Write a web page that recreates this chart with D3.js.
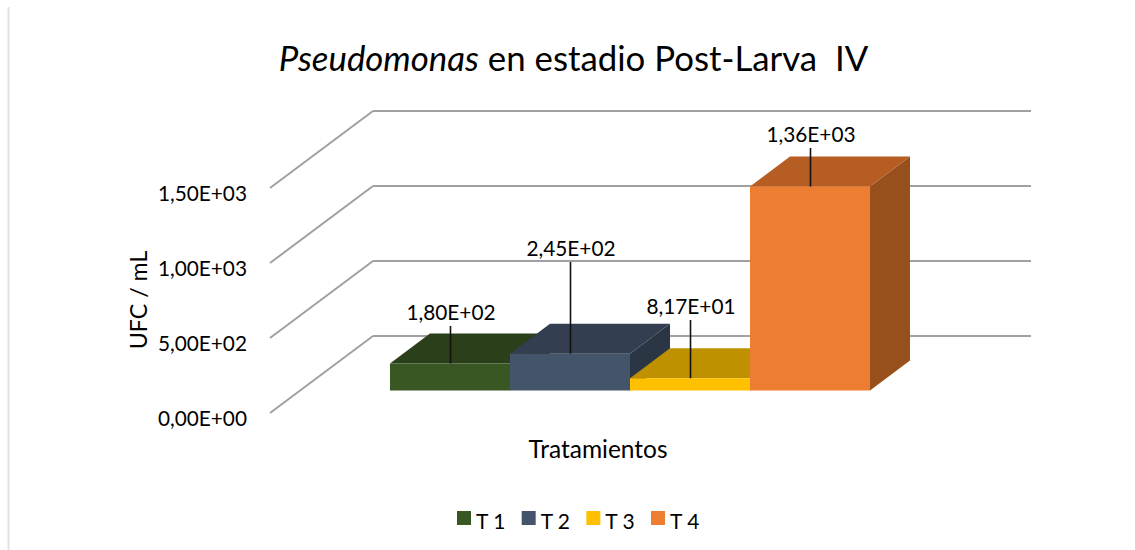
<!DOCTYPE html>
<meta charset="utf-8">
<style>
  html, body { margin: 0; background: #fff; }
  text { font-family: Lato, "Open Sans", sans-serif; fill: #000; }
</style>
<svg width="1135" height="550"></svg>
<script src="https://d3js.org/d3.v7.min.js"></script>
<script>

var categories = ["T 1", "T 2", "T 3", "T 4"];
var values = [180, 245, 81.7, 1360];
var valueLabels = ["1,80E+02", "2,45E+02", "8,17E+01", "1,36E+03"];
var tickValues = [0, 500, 1000, 1500];
var tickLabels = ["0,00E+00", "5,00E+02", "1,00E+03", "1,50E+03"];
var frontColors = ["#385723", "#44546a", "#ffc000", "#ed7d31"];
var topColors = ["#2b3f1b", "#333f50", "#bf9000", "#b55d23"];
var sideColors = ["#233316", "#2b3645", "#a07800", "#97501c"];
var labelTops = [326, 262, 320, 148];

var svg = d3.select("svg");

var depthX = 40, depthY = -30;
var gridColor = "#a0a0a0";

// three y scales, same value range, one for each plane of the fake 3d box
var yFront = d3.scaleLinear().domain([0, 1500]).range([413, 188]);
var yBack = d3.scaleLinear().domain([0, 1500]).range([336, 111]);
var yBar = d3.scaleLinear().domain([0, 1500]).range([390.5, 165.5]);
var x = d3.scaleBand().domain(categories).range([390, 870]);

// left border of the picture
svg.append("line")
    .attr("x1", 8.5).attr("x2", 8.5)
    .attr("y1", 7).attr("y2", 550)
    .attr("stroke", "#e2e2e2")
    .attr("stroke-width", 2);

// title
var title = svg.append("text")
    .attr("x", 573.5)
    .attr("y", 71)
    .attr("text-anchor", "middle")
    .style("font-size", "34.8px");
title.append("tspan").style("font-style", "italic").text("Pseudomonas");
title.append("tspan").text(" en estadio Post-Larva\u00a0 IV");

// walls
var grid = svg.append("g");
grid.selectAll(".back")
    .data(tickValues)
    .enter().append("line")
    .attr("class", "back")
    .attr("x1", 373)
    .attr("x2", 1031)
    .attr("y1", function(d) { return yBack(d); })
    .attr("y2", function(d) { return yBack(d); })
    .attr("stroke", gridColor)
    .attr("stroke-width", 2);
grid.selectAll(".side")
    .data(tickValues)
    .enter().append("line")
    .attr("class", "side")
    .attr("x1", 270)
    .attr("x2", 373)
    .attr("y1", function(d) { return yFront(d); })
    .attr("y2", function(d) { return yBack(d); })
    .attr("stroke", gridColor)
    .attr("stroke-width", 2);

// value axis
var axis = svg.append("g")
    .attr("transform", "translate(250,5.5)")
    .call(d3.axisLeft(yFront)
        .tickValues(tickValues)
        .tickSize(0)
        .tickFormat(function(d, i) { return tickLabels[i]; }));
axis.select(".domain").remove();
axis.selectAll("text")
    .style("font-size", "20.8px")
    .style("fill", "#000")
    .style("font-family", "Lato, 'Open Sans', sans-serif");

function poly(points) {
  return points.map(function(p) { return p.join(","); }).join(" ");
}

// bars, each one over the one before
var bars = svg.selectAll(".bar")
    .data(categories)
    .enter().append("g")
    .attr("class", "bar");

bars.append("polygon")
    .attr("fill", function(d, i) { return sideColors[i]; })
    .attr("points", function(d, i) {
      var x1 = x(d) + x.bandwidth(), y0 = yBar(0), y1 = yBar(values[i]);
      return poly([[x1, y0], [x1, y1], [x1 + depthX, y1 + depthY], [x1 + depthX, y0 + depthY]]);
    });

bars.append("polygon")
    .attr("fill", function(d, i) { return topColors[i]; })
    .attr("points", function(d, i) {
      var x0 = x(d), x1 = x0 + x.bandwidth(), y1 = yBar(values[i]);
      return poly([[x0, y1], [x1, y1], [x1 + depthX, y1 + depthY], [x0 + depthX, y1 + depthY]]);
    });

bars.append("rect")
    .attr("x", function(d) { return x(d); })
    .attr("y", function(d, i) { return yBar(values[i]); })
    .attr("width", x.bandwidth())
    .attr("height", function(d, i) { return yBar(0) - yBar(values[i]); })
    .attr("fill", function(d, i) { return frontColors[i]; });

// leader lines and value labels
svg.selectAll(".leader")
    .data(categories)
    .enter().append("line")
    .attr("class", "leader")
    .attr("x1", function(d) { return x(d) + x.bandwidth() / 2 + 0.5; })
    .attr("x2", function(d) { return x(d) + x.bandwidth() / 2 + 0.5; })
    .attr("y1", function(d, i) { return yBar(values[i]); })
    .attr("y2", function(d, i) { return labelTops[i]; })
    .attr("stroke", "#111")
    .attr("stroke-width", 1.6);

svg.selectAll(".value")
    .data(categories)
    .enter().append("text")
    .attr("class", "value")
    .attr("x", function(d) { return x(d) + x.bandwidth() / 2 + 1; })
    .attr("y", function(d, i) { return labelTops[i] - 6; })
    .attr("text-anchor", "middle")
    .style("font-size", "20.8px")
    .text(function(d, i) { return valueLabels[i]; });

// axis titles
svg.append("text")
    .attr("transform", "translate(147,300) rotate(-90)")
    .attr("text-anchor", "middle")
    .style("font-size", "23.2px")
    .text("UFC / mL");

svg.append("text")
    .attr("x", 598)
    .attr("y", 458)
    .attr("text-anchor", "middle")
    .style("font-size", "24.5px")
    .text("Tratamientos");

// legend
var legendX = d3.scalePoint().domain(categories).range([457, 651]);
var legend = svg.selectAll(".legend")
    .data(categories)
    .enter().append("g")
    .attr("class", "legend")
    .attr("transform", function(d) { return "translate(" + legendX(d) + ",511)"; });
legend.append("rect")
    .attr("width", 14)
    .attr("height", 14)
    .attr("fill", function(d, i) { return frontColors[i]; });
legend.append("text")
    .attr("x", 19)
    .attr("y", 18)
    .style("font-size", "21px")
    .text(function(d) { return d; });

</script>
